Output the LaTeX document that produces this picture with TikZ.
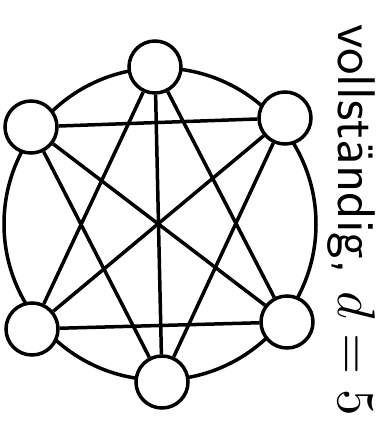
\documentclass[tikz,border=0pt]{standalone}
\begin{document}
\begin{tikzpicture}[x=1pt,y=-1pt,
  vert/.style={circle,draw,line width=3.5pt,minimum size=52pt,inner sep=0pt,fill=white},
  edge/.style={line width=3.5pt}]
\useasboundingbox (0,0) rectangle (385,434);
\coordinate (c) at (160,224);
\draw[edge] (c) circle[radius=156pt];
\node[vert] (t) at (155,67) {};
\node[vert] (ur) at (285,118) {};
\node[vert] (lr) at (287,322) {};
\node[vert] (b) at (162,382) {};
\node[vert] (ll) at (32,329) {};
\node[vert] (ul) at (31,127) {};
\draw[edge] (ul) -- (ur);
\draw[edge] (ll) -- (lr);
\draw[edge] (t) -- (b);
\draw[edge] (t) -- (ll);
\draw[edge] (t) -- (lr);
\draw[edge] (b) -- (ul);
\draw[edge] (b) -- (ur);
\draw[edge] (ul) -- (lr);
\draw[edge] (ur) -- (ll);
\node[rotate=-90,scale=5.3,transform shape,anchor=base west,inner sep=0pt,font=\sffamily] (lab) at (338,23) {vollständig, $d=5$};
\end{tikzpicture}
\end{document}
